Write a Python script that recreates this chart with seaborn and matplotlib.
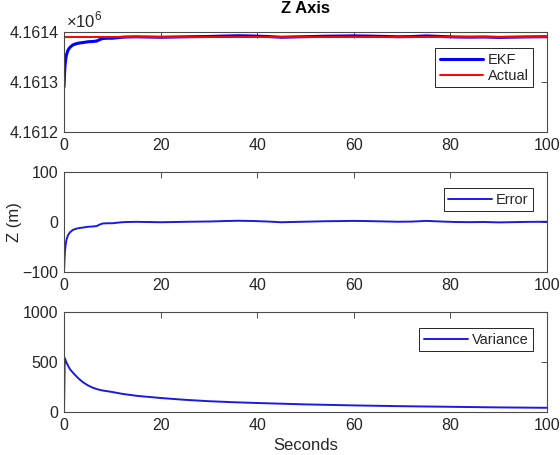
import matplotlib
matplotlib.use("Agg")
import matplotlib.pyplot as plt
from matplotlib.ticker import FuncFormatter
import seaborn as sns
import pandas as pd

# ---------------- data ----------------
t_err = [0, 0.1, 0.2, 0.35, 0.5, 0.8, 1.2, 1.8, 2.5, 3.2, 4, 5, 6, 6.8, 7.3, 8, 9, 10,
         11, 12, 13, 15, 17, 20, 23, 26, 30, 33, 36, 39, 42, 45, 48, 51, 54, 57, 60,
         63, 66, 69, 72, 75, 78, 81, 84, 87, 90, 93, 96, 100]
error = [-100, -75, -58, -45, -36, -27, -21, -16, -13.5, -12, -11, -9.5, -9, -8, -5.5,
         -3, -2.5, -2.5, -1.5, -0.5, 0, 0.3, 0, -0.5, 0, 0.5, 1, 1.8, 2.5, 2, 1, -0.5,
         0.2, 0.8, 1.5, 1.8, 2.2, 1.8, 1.2, 0.5, 0.8, 2.2, 1, 0, -0.3, 0, -0.8, -0.3,
         0.2, 0.5]
ekf = [4161290, 4161315, 4161332, 4161345, 4161354, 4161363, 4161369, 4161374,
       4161376.5, 4161378, 4161379, 4161380.5, 4161381, 4161382, 4161384.5, 4161387,
       4161387.5, 4161387.5, 4161388.5, 4161389.5, 4161390, 4161390.3, 4161390,
       4161389.5, 4161390, 4161390.5, 4161391, 4161391.8, 4161392.5, 4161392,
       4161391, 4161389.5, 4161390.2, 4161390.8, 4161391.5, 4161391.8, 4161392.2,
       4161391.8, 4161391.2, 4161390.5, 4161390.8, 4161392.2, 4161391, 4161390,
       4161389.7, 4161390, 4161389.2, 4161389.7, 4161390.2, 4161390.5]
t_actual = [0, 100]
actual = [4161390, 4161390]

t_var = [0, 0.15, 0.5, 1.2, 2, 3, 4, 5, 6, 7, 8, 10, 12, 15, 20, 25, 30, 35, 40,
         50, 60, 70, 80, 90, 100]
variance = [0, 540, 495, 430, 385, 335, 295, 265, 242, 226, 215, 200, 182, 162,
            140, 122, 108, 98, 90, 76, 66, 58, 52, 46, 42]

x_ticks = [0, 20, 40, 60, 80, 100]

# ---------------- style ----------------
sns.set_theme(style="white")
plt.rcParams['font.family'] = ['Liberation Sans', 'DejaVu Sans']
plt.rcParams['mathtext.fontset'] = 'custom'
plt.rcParams['mathtext.rm'] = 'Liberation Sans'

FS = 11.5
EDGE = '#4a4a4a'
TXT = '#262626'

fig = plt.figure(figsize=(5.6, 4.55), dpi=100)
L, W, H = 0.1143, 0.8625, 0.2198
ax1 = fig.add_axes([L, 0.7099, W, H])
ax2 = fig.add_axes([L, 0.4022, W, H])
ax3 = fig.add_axes([L, 0.0945, W, H])

df_ekf = pd.DataFrame({'t': t_err, 'v': ekf})
df_act = pd.DataFrame({'t': t_actual, 'v': actual})
df_err = pd.DataFrame({'t': t_err, 'v': error})
df_var = pd.DataFrame({'t': t_var, 'v': variance})

sns.lineplot(data=df_ekf, x='t', y='v', ax=ax1, color='#0000ff', lw=2.2,
             label='EKF', sort=False, estimator=None)
sns.lineplot(data=df_act, x='t', y='v', ax=ax1, color='#ff0000', lw=1.4,
             label='Actual', sort=False, estimator=None)
sns.lineplot(data=df_err, x='t', y='v', ax=ax2, color='#1a1ae6', lw=1.4,
             label='Error', sort=False, estimator=None)
sns.lineplot(data=df_var, x='t', y='v', ax=ax3, color='#1a1ae6', lw=1.4,
             label='Variance', sort=False, estimator=None)

ax1.set_ylim(4161200, 4161400)
ax1.set_yticks([4161200, 4161300, 4161400])
ax1.yaxis.set_major_formatter(FuncFormatter(lambda v, p: f'{v/1e6:.4f}'))
ax2.set_ylim(-100, 100)
ax2.set_yticks([-100, 0, 100])
ax3.set_ylim(0, 1000)
ax3.set_yticks([0, 500, 1000])

for ax in (ax1, ax2, ax3):
    ax.set_xlim(0, 100)
    ax.set_xticks(x_ticks)
    ax.set_xlabel('')
    ax.set_ylabel('')
    for s in ax.spines.values():
        s.set_visible(True)
        s.set_color(EDGE)
        s.set_linewidth(0.8)
    ax.tick_params(direction='in', length=4, width=0.7, color=EDGE,
                   top=True, right=True, labelsize=FS, labelcolor=TXT, pad=4)
    leg = ax.legend(loc='upper right', bbox_to_anchor=(0.971, 0.835),
                    fontsize=10.5, frameon=True, fancybox=False, framealpha=1,
                    edgecolor='#262626', handlelength=3.0, handletextpad=0.3,
                    borderpad=0.3, labelspacing=0.15, borderaxespad=0)
    leg.get_frame().set_linewidth(0.7)
    for txt in leg.get_texts():
        txt.set_color(TXT)

ax1.set_title('Z Axis', fontsize=12, fontweight='bold', color='#000000', pad=14)
ax1.text(0.005, 1.015, r'$\times10^{6}$', transform=ax1.transAxes, ha='left',
         va='bottom', fontsize=12, color=TXT)
ax2.set_ylabel('Z (m)', fontsize=12, color=TXT, labelpad=0)
ax3.set_xlabel('Seconds', fontsize=12, color=TXT, labelpad=4)

fig.savefig('out.png', dpi=100, facecolor='white')
